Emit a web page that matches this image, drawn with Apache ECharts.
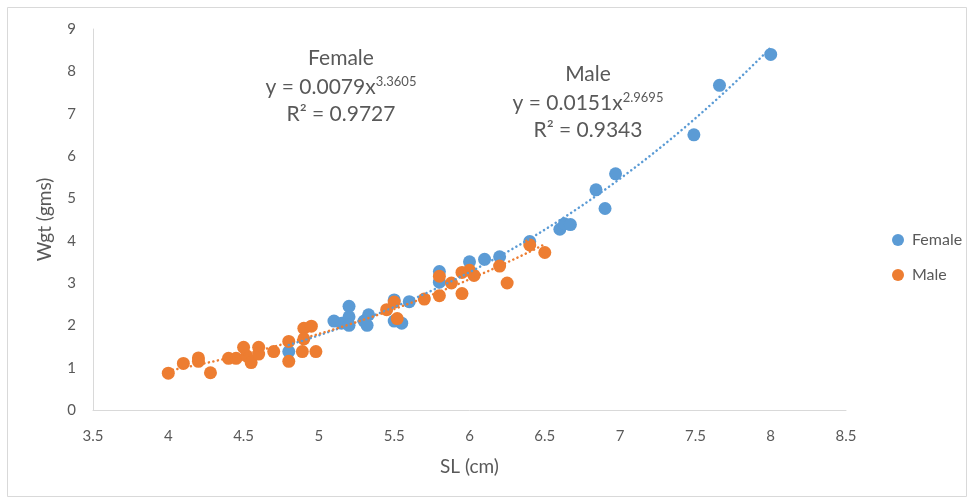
<!DOCTYPE html>
<html>
<head>
<meta charset="utf-8">
<title>Wgt vs SL</title>
<script src="https://cdn.jsdelivr.net/npm/echarts@6/dist/echarts.min.js"></script>
<style>
  html, body { margin: 0; padding: 0; background: #ffffff; }
  #chart { width: 974px; height: 503px; }
</style>
</head>
<body>
<div id="chart"></div>
<script>
// Standard length (cm) and weight (gms) per fish
const femaleSL  = [4.80, 5.10, 5.15, 5.20, 5.20, 5.20, 5.30, 5.33, 5.32, 5.50, 5.50, 5.55, 5.60,
                   5.80, 5.80, 6.00, 6.10, 6.20, 6.40, 6.60, 6.63, 6.67, 6.84, 6.90, 6.97, 7.49, 7.66, 8.00];
const femaleWgt = [1.38, 2.10, 2.05, 2.45, 2.20, 2.00, 2.10, 2.25, 2.00, 2.60, 2.10, 2.05, 2.56,
                   3.27, 3.02, 3.50, 3.56, 3.62, 3.98, 4.27, 4.40, 4.38, 5.20, 4.76, 5.58, 6.50, 7.67, 8.40];

const maleSL  = [4.00, 4.10, 4.20, 4.20, 4.28, 4.40, 4.45, 4.50, 4.52, 4.55, 4.60, 4.60, 4.70,
                 4.80, 4.80, 4.89, 4.90, 4.90, 4.95, 4.98, 5.45, 5.50, 5.52, 5.70, 5.80, 5.80,
                 5.88, 5.95, 5.95, 6.00, 6.03, 6.20, 6.25, 6.40, 6.50];
const maleWgt = [0.87, 1.10, 1.23, 1.15, 0.88, 1.22, 1.22, 1.48, 1.28, 1.12, 1.48, 1.32, 1.38,
                 1.62, 1.15, 1.38, 1.93, 1.68, 1.98, 1.38, 2.37, 2.55, 2.16, 2.62, 2.70, 3.16,
                 3.00, 2.75, 3.25, 3.30, 3.18, 3.40, 3.00, 3.90, 3.72];

// Power-law fits: y = a * x^b
const femaleFit = [0.0079, 3.3605];
const maleFit   = [0.0151, 2.9695];
const femaleR2  = '0.9727';
const maleR2    = '0.9343';

const xTicks = [3.5, 4, 4.5, 5, 5.5, 6, 6.5, 7, 7.5, 8, 8.5];
const yTicks = [0, 1, 2, 3, 4, 5, 6, 7, 8, 9];

const BLUE = '#5B9BD5';
const ORANGE = '#ED7D31';
const TEXT = '#595959';
const FONT = 'Lato, "Open Sans", sans-serif';

function pairs(xs, ys) { return xs.map((x, i) => [x, ys[i]]); }

// Sample the fitted curve across the observed SL range
function fitCurve(fit, xs) {
  const lo = Math.min(...xs), hi = Math.max(...xs);
  const pts = [];
  const n = 80;
  for (let i = 0; i <= n; i++) {
    const x = lo + (hi - lo) * i / n;
    pts.push([x, fit[0] * Math.pow(x, fit[1])]);
  }
  return pts;
}

const chart = echarts.init(document.getElementById('chart'));

const dotted = (color) => ({ color: color, width: 2.5, type: [0.1, 4.5], cap: 'round' });

const eqRich = {
  t: { fontSize: 21, fill: TEXT, fontFamily: FONT },
  s: { fontSize: 13, fill: TEXT, fontFamily: FONT, verticalAlign: 'top', padding: [0, 0, 11, 0] }
};

// Three centred lines: group label, fitted equation, R²
function eqText(label, fit, r2, cx, y0, y1, y2) {
  return [
    { type: 'text', x: cx, y: y0, style: { text: label, fill: TEXT, font: '21px ' + FONT, align: 'center', verticalAlign: 'middle' } },
    { type: 'text', x: cx, y: y1, style: { text: '{t|y = ' + fit[0] + 'x}{s|' + fit[1] + '}', rich: eqRich, align: 'center', verticalAlign: 'middle' } },
    { type: 'text', x: cx, y: y2, style: { text: 'R² = ' + r2, fill: TEXT, font: '21px ' + FONT, align: 'center', verticalAlign: 'middle' } }
  ];
}

chart.setOption({
  animation: false,
  backgroundColor: '#ffffff',
  textStyle: { fontFamily: FONT },
  grid: { left: 93, top: 29, width: 753, height: 381, containLabel: false },
  xAxis: {
    type: 'value', min: xTicks[0], max: xTicks[xTicks.length - 1], interval: 0.5,
    name: 'SL (cm)', nameLocation: 'middle', nameGap: 47,
    nameTextStyle: { fontSize: 19, color: TEXT, fontFamily: FONT },
    axisLine: { show: true, lineStyle: { color: '#d9d9d9', width: 1 } },
    axisTick: { show: false },
    splitLine: { show: false },
    axisLabel: { fontSize: 15, color: TEXT, margin: 19, fontFamily: FONT,
      formatter: (v) => xTicks.includes(+v.toFixed(2)) ? String(+v.toFixed(2)) : '' }
  },
  yAxis: {
    type: 'value', min: yTicks[0], max: yTicks[yTicks.length - 1], interval: 1,
    name: 'Wgt (gms)', nameLocation: 'middle', nameGap: 39, nameRotate: 90,
    nameTextStyle: { fontSize: 19, color: TEXT, fontFamily: FONT },
    axisLine: { show: true, lineStyle: { color: '#d9d9d9', width: 1 } },
    axisTick: { show: false },
    splitLine: { show: false },
    axisLabel: { fontSize: 15, color: TEXT, margin: 17, fontFamily: FONT }
  },
  legend: {
    orient: 'vertical', left: 887, top: 227, itemGap: 19,
    itemWidth: 12, itemHeight: 12,
    data: [{ name: 'Female', icon: 'circle' }, { name: 'Male', icon: 'circle' }],
    textStyle: { fontSize: 16, color: TEXT, fontFamily: FONT, padding: [0, 0, 0, 3] }
  },
  graphic: [
    { type: 'rect', shape: { x: 7.5, y: 7.5, width: 959, height: 489 },
      style: { fill: 'none', stroke: '#d9d9d9', lineWidth: 1 }, silent: true, z: -10 },
    ...eqText('Female', femaleFit, femaleR2, 341, 58, 87, 114),
    ...eqText('Male', maleFit, maleR2, 588, 74, 103, 130)
  ],
  series: [
    { name: 'Female', type: 'scatter', data: pairs(femaleSL, femaleWgt),
      symbol: 'circle', symbolSize: 13, itemStyle: { color: BLUE, opacity: 1 }, z: 2 },
    { name: 'Male', type: 'scatter', data: pairs(maleSL, maleWgt),
      symbol: 'circle', symbolSize: 13, itemStyle: { color: ORANGE, opacity: 1 }, z: 3 },
    { name: 'Female fit', type: 'line', data: fitCurve(femaleFit, femaleSL),
      showSymbol: false, smooth: false, lineStyle: dotted(BLUE), z: 4, silent: true },
    { name: 'Male fit', type: 'line', data: fitCurve(maleFit, maleSL),
      showSymbol: false, smooth: false, lineStyle: dotted(ORANGE), z: 5, silent: true }
  ]
});
</script>
</body>
</html>
